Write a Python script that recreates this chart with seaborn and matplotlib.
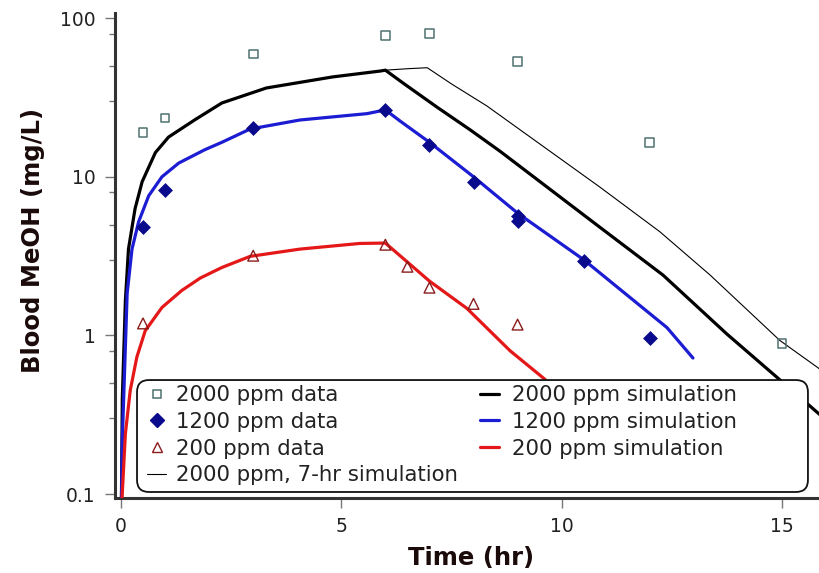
import numpy as np
import pandas as pd
import matplotlib
matplotlib.use("Agg")
import matplotlib.pyplot as plt
import seaborn as sns
from matplotlib.patches import FancyBboxPatch
from matplotlib.lines import Line2D
from matplotlib.ticker import FixedLocator, NullFormatter, NullLocator

# ---------------- data ----------------
t_2000_data = [0.5, 1.0, 3.0, 6.0, 7.0, 9.0, 12.0, 15.0]
c_2000_data = [19.0, 23.5, 59.5, 78.0, 80.0, 53.5, 16.4, 0.89]

t_1200_data = [0.5, 1.0, 3.0, 6.0, 7.0, 8.0, 9.0, 9.0, 10.5, 12.0]
c_1200_data = [4.85, 8.2, 20.3, 26.4, 15.9, 9.3, 5.3, 5.7, 2.96, 0.97]

t_200_data = [0.5, 3.0, 6.0, 6.5, 7.0, 8.0, 9.0]
c_200_data = [1.19, 3.18, 3.73, 2.71, 2.0, 1.58, 1.17]

t_2000_sim = [0.01, 0.03, 0.1, 0.17, 0.32, 0.48, 0.78, 1.08, 1.68, 2.29, 3.3,
              4.8, 5.88, 6.0, 6.4, 7.17, 7.92, 8.6, 10.87, 12.3, 13.75,
              14.9, 15.84, 16.5]
c_2000_sim = [0.09, 0.4, 1.66, 3.5, 6.3, 9.3, 14.2, 17.8, 22.9, 29.2, 36.3,
              42.6, 46.4, 47.0, 39.0, 27.5, 19.8, 14.5, 4.8, 2.4, 1.02,
              0.54, 0.32, 0.22]

t_1200_sim = [0.01, 0.03, 0.14, 0.25, 0.4, 0.63, 0.93, 1.31, 1.9, 2.29, 2.93,
              4.06, 5.58, 6.0, 6.33, 7.0, 8.0, 9.0, 10.5, 12.39, 12.98]
c_1200_sim = [0.09, 0.22, 1.84, 3.5, 5.2, 7.6, 10.0, 12.2, 14.8, 16.5, 20.0,
              22.8, 25.0, 26.4, 22.5, 16.5, 10.0, 5.9, 3.0, 1.12, 0.72]

t_200_sim = [0.02, 0.1, 0.21, 0.36, 0.55, 0.93, 1.38, 1.8, 2.29, 2.93, 4.06,
             5.42, 6.0, 7.0, 7.85, 8.83, 9.58, 10.2]
c_200_sim = [0.09, 0.24, 0.45, 0.73, 1.07, 1.5, 1.92, 2.3, 2.68, 3.15, 3.5,
             3.8, 3.82, 2.2, 1.48, 0.8, 0.54, 0.38]

t_2000_7hr = [0.01, 0.03, 0.1, 0.17, 0.32, 0.48, 0.78, 1.08, 1.68, 2.29, 3.3,
              4.8, 5.88, 6.0, 6.5, 6.95, 7.5, 8.3, 10.87, 12.23, 13.37,
              14.95, 15.8, 16.5]
c_2000_7hr = [0.09, 0.4, 1.66, 3.5, 6.3, 9.3, 14.2, 17.8, 22.9, 29.2, 36.3,
              42.6, 46.4, 47.0, 48.0, 48.7, 38.5, 28.0, 8.6, 4.5, 2.4,
              0.93, 0.63, 0.45]

x_ticks = [0, 5, 10, 15]
y_ticks = [0.1, 1, 10, 100]
y_tick_labels = ["0.1", "1", "10", "100"]
y_minor = [0.3, 0.5, 0.8, 3, 5, 8, 30, 50, 80]

labels = ["2000 ppm data", "1200 ppm data", "200 ppm data",
          "2000 ppm, 7-hr simulation",
          "2000 ppm simulation", "1200 ppm simulation", "200 ppm simulation"]

# ---------------- style ----------------
sns.set_theme(style="white")
plt.rcParams["font.family"] = ["DejaVu Sans"]

C_SQ = "#4f7070"
C_DIA = "#0a0a8c"
C_TRI = "#8a1c1c"
C_BLK = "#000000"
C_BLU = "#1c1cd2"
C_RED = "#e41818"
TXT = "#222222"

fig = plt.figure(figsize=(8.19, 5.73), dpi=100)
ax = fig.add_axes([0.1404, 0.1309, 0.8596, 0.8461])

# simulations
sns.lineplot(x=t_2000_7hr, y=c_2000_7hr, ax=ax, color=C_BLK, lw=0.8,
             sort=False, estimator=None, zorder=2)
sns.lineplot(x=t_2000_sim, y=c_2000_sim, ax=ax, color=C_BLK, lw=2.3,
             sort=False, estimator=None, zorder=3)
sns.lineplot(x=t_1200_sim, y=c_1200_sim, ax=ax, color=C_BLU, lw=2.3,
             sort=False, estimator=None, zorder=3)
sns.lineplot(x=t_200_sim, y=c_200_sim, ax=ax, color=C_RED, lw=2.3,
             sort=False, estimator=None, zorder=3)

# data
sns.scatterplot(x=t_2000_data, y=c_2000_data, ax=ax, marker="s", s=40,
                color=C_SQ, facecolors="none", edgecolors=C_SQ,
                linewidth=1.1, zorder=4)
sns.scatterplot(x=t_1200_data, y=c_1200_data, ax=ax, marker="D", s=50,
                color=C_DIA, edgecolors=C_DIA, linewidth=0.5, zorder=4)
sns.scatterplot(x=t_200_data, y=c_200_data, ax=ax, marker="^", s=60,
                color=C_TRI, facecolors="none", edgecolors=C_TRI,
                linewidth=1.0, zorder=4)

ax.set_yscale("log")
ax.set_xlim(-0.136, 15.84)
ax.set_ylim(0.0944, 107.5)

ax.xaxis.set_major_locator(FixedLocator(x_ticks))
ax.set_xticklabels([str(v) for v in x_ticks])
ax.xaxis.set_minor_locator(NullLocator())
ax.yaxis.set_major_locator(FixedLocator(y_ticks))
ax.set_yticklabels(y_tick_labels)
ax.yaxis.set_minor_locator(FixedLocator(y_minor))
ax.yaxis.set_minor_formatter(NullFormatter())

ax.tick_params(axis="both", which="major", direction="out", length=7,
               width=1.0, color="#777777", labelsize=13.5, labelcolor=TXT,
               pad=7)
ax.tick_params(axis="y", which="minor", direction="out", length=4,
               width=1.0, color="#777777")
ax.tick_params(axis="x", which="major", bottom=True)
ax.tick_params(axis="y", which="both", left=True)

for side in ["top", "right"]:
    ax.spines[side].set_visible(False)
for side in ["left", "bottom"]:
    ax.spines[side].set_color("#333333")
    ax.spines[side].set_linewidth(2.2)

ax.set_xlabel("Time (hr)", fontsize=17.5, fontweight="bold", color="#1a0a0a")
ax.set_ylabel("Blood MeOH (mg/L)", fontsize=17.5, fontweight="bold",
              color="#1a0a0a")
ax.xaxis.set_label_coords(0.506, -0.098)
ax.yaxis.set_label_coords(-0.100, 0.532)

# legend box
rx = 0.017
box = FancyBboxPatch((0.0313, 0.0124), 0.953, 0.2309,
                     boxstyle=f"round,pad=0,rounding_size={rx}",
                     mutation_aspect=1.45, transform=ax.transAxes,
                     facecolor="white", edgecolor="#111111", lw=1.3,
                     zorder=6, clip_on=False)
ax.add_patch(box)

h_sq = Line2D([], [], ls="", marker="s", ms=6.3, mfc="none", mec=C_SQ, mew=1.1)
h_dia = Line2D([], [], ls="", marker="D", ms=7.0, mfc=C_DIA, mec=C_DIA)
h_tri = Line2D([], [], ls="", marker="^", ms=7.5, mfc="none", mec=C_TRI, mew=1.0)
h_thin = Line2D([], [], color=C_BLK, lw=0.8)
h_blk = Line2D([], [], color=C_BLK, lw=2.3)
h_blu = Line2D([], [], color=C_BLU, lw=2.3)
h_red = Line2D([], [], color=C_RED, lw=2.3)

leg_kw = dict(frameon=False, fontsize=15.3, labelcolor=TXT, borderpad=0,
              borderaxespad=0, handlelength=0.9, handletextpad=0.45,
              labelspacing=0.32, loc="upper left")
leg1 = ax.legend([h_sq, h_dia, h_tri, h_thin], labels[:4],
                 bbox_to_anchor=(0.0455, 0.233), **leg_kw)
leg1.set_zorder(7)
ax.add_artist(leg1)
leg_kw2 = dict(leg_kw)
leg_kw2["handletextpad"] = 0.6
leg2 = ax.legend([h_blk, h_blu, h_red], labels[4:],
                 bbox_to_anchor=(0.5185, 0.233), **leg_kw2)
leg2.set_zorder(7)

fig.savefig("out.png", dpi=100)
